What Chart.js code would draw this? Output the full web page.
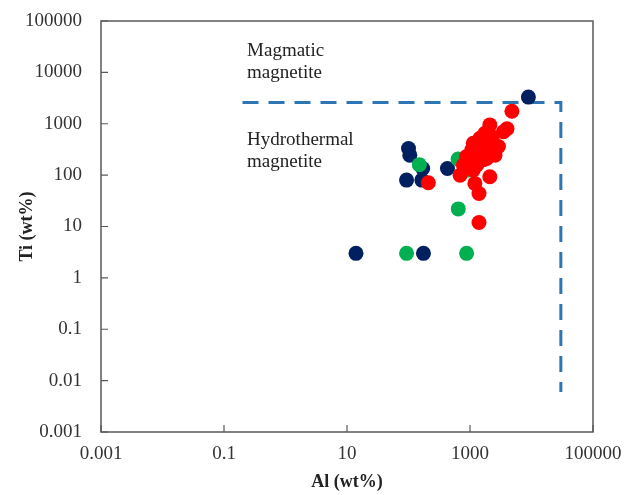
<!DOCTYPE html>
<html>
<head>
<meta charset="utf-8">
<script src="https://cdn.jsdelivr.net/npm/chart.js@4.4.1/dist/chart.umd.min.js"></script>
<style>
  html, body { margin: 0; padding: 0; background: #ffffff; }
  #wrap { width: 637px; height: 495px; position: relative; }
</style>
</head>
<body>
<div id="wrap"><canvas id="c" width="637" height="495"></canvas></div>
<script>
// ---- Data (Al wt%, Ti wt%) ----
const xTickValues = [0.001, 0.1, 10, 1000, 100000];
const yTickValues = [0.001, 0.01, 0.1, 1, 10, 100, 1000, 10000, 100000];

const navyAl = [14, 175, 100, 105, 93, 165, 170, 430, 8900];
const navyTi = [3, 3, 330, 245, 80, 80, 135, 135, 3300];

const greenAl = [93, 880, 150, 645, 640, 890];
const greenTi = [3, 3, 160, 22, 205, 125];

const redAl = [4800, 2100, 4000, 3500, 1750, 2900, 1450, 1130, 1070, 1870, 1650, 880, 780, 1290, 1870, 690, 1130, 2100, 1200, 1400, 1400, 210, 2300, 1350, 2550, 1000];
const redTi = [1750, 950, 800, 700, 650, 360, 520, 415, 310, 330, 200, 230, 157, 157, 210, 100, 126, 93, 69, 44, 12, 71, 550, 310, 245, 200];

// boundary line (Magmatic / Hydrothermal)
const boundaryAl = [0.2, 30000, 30000];
const boundaryTi = [2600, 2600, 0.006];

const labelsMagmatic = ["Magmatic", "magnetite"];
const labelsHydro = ["Hydrothermal", "magnetite"];

function pts(xs, ys) { return xs.map((x, i) => ({ x: x, y: ys[i] })); }

const serif = "'Liberation Serif', 'DejaVu Serif', serif";

const framePlugin = {
  id: 'frame',
  beforeDatasetsDraw(chart) {
    const { ctx, chartArea: a, scales } = chart;
    ctx.save();
    ctx.strokeStyle = '#595959';
    ctx.lineWidth = 1.5;
    ctx.strokeRect(a.left, a.top, a.right - a.left, a.bottom - a.top);
    ctx.lineWidth = 1.2;
    ctx.beginPath();
    yTickValues.forEach(v => {
      const y = scales.y.getPixelForValue(v);
      ctx.moveTo(a.left, y); ctx.lineTo(a.left + 7, y);
    });
    xTickValues.forEach(v => {
      const x = scales.x.getPixelForValue(v);
      ctx.moveTo(x, a.bottom); ctx.lineTo(x, a.bottom - 7);
    });
    ctx.stroke();
    ctx.restore();
  },
  afterDatasetsDraw(chart) {
    const { ctx, scales } = chart;
    ctx.save();
    ctx.fillStyle = '#222222';
    ctx.font = "19px " + serif;
    ctx.textBaseline = 'middle';
    ctx.textAlign = 'left';
    const lx = scales.x.getPixelForValue(0.22) + 2;
    ctx.fillText(labelsMagmatic[0], lx, 51);
    ctx.fillText(labelsMagmatic[1], lx, 73);
    ctx.fillText(labelsHydro[0], lx, 140);
    ctx.fillText(labelsHydro[1], lx, 162);
    ctx.restore();
  }
};

new Chart(document.getElementById('c'), {
  type: 'scatter',
  data: {
    datasets: [
      {
        label: 'boundary',
        data: pts(boundaryAl, boundaryTi),
        showLine: true,
        borderColor: '#2E75B6',
        borderWidth: 3,
        borderDash: [16, 10],
        pointRadius: 0,
        fill: false,
        order: 4
      },
      {
        label: 'navy',
        data: pts(navyAl, navyTi),
        backgroundColor: '#002060',
        borderColor: '#002060',
        borderWidth: 0,
        pointRadius: 7.5,
        order: 3
      },
      {
        label: 'green',
        data: pts(greenAl, greenTi),
        backgroundColor: '#00B050',
        borderColor: '#00B050',
        borderWidth: 0,
        pointRadius: 7.5,
        order: 2
      },
      {
        label: 'red',
        data: pts(redAl, redTi),
        backgroundColor: '#FF0000',
        borderColor: '#FF0000',
        borderWidth: 0,
        pointRadius: 7.5,
        order: 1
      }
    ]
  },
  options: {
    responsive: false,
    animation: false,
    layout: { padding: { left: 0, right: 44, top: 21, bottom: 0 } },
    plugins: { legend: { display: false }, tooltip: { enabled: false } },
    scales: {
      x: {
        type: 'logarithmic',
        position: 'bottom',
        min: 0.001, max: 100000,
        afterBuildTicks: s => { s.ticks = xTickValues.map(v => ({ value: v })); },
        afterFit: s => { s.height = 63; s.paddingLeft = 0; s.paddingRight = 0; },
        grid: { display: false, drawTicks: false },
        border: { display: false },
        ticks: {
          autoSkip: false, maxRotation: 0,
          padding: 11,
          color: '#333333',
          font: { family: serif, size: 19 },
          callback: v => String(v)
        },
        title: {
          display: true, text: 'Al (wt%)', color: '#222222',
          font: { family: serif, size: 18, weight: 'bold' },
          padding: { top: 0, bottom: 2 }
        }
      },
      y: {
        type: 'logarithmic',
        position: 'left',
        min: 0.001, max: 100000,
        afterBuildTicks: s => { s.ticks = yTickValues.map(v => ({ value: v })); },
        afterFit: s => { s.width = 101; s.paddingTop = 0; s.paddingBottom = 0; },
        grid: { display: false, drawTicks: false },
        border: { display: false },
        ticks: {
          autoSkip: false,
          padding: 19,
          color: '#333333',
          font: { family: serif, size: 19 },
          callback: v => String(v)
        },
        title: {
          display: true, text: 'Ti (wt%)', color: '#222222',
          font: { family: serif, size: 18, weight: 'bold' },
          padding: { top: 17, bottom: 0 }
        }
      }
    }
  },
  plugins: [framePlugin]
});
</script>
</body>
</html>
